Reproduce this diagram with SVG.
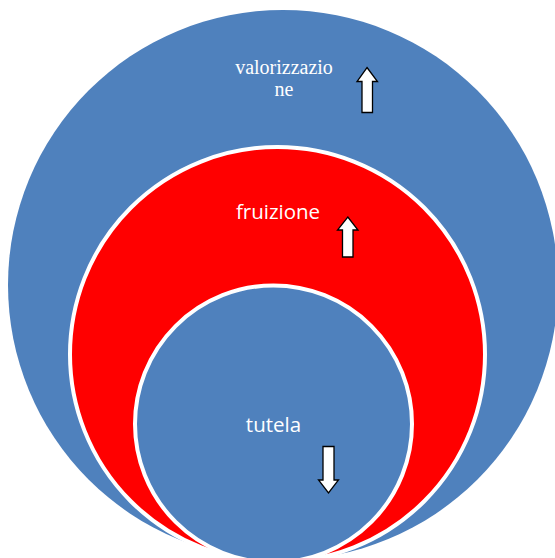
<svg xmlns="http://www.w3.org/2000/svg" width="555" height="558" viewBox="0 0 555 558">
<style>
.blue{fill:#4F81BD}
.ring{stroke:#FFFFFF;stroke-width:4}
.arrow{fill:#FFFFFF;stroke:#000000;stroke-width:1.3;stroke-linejoin:miter}
.serif{font-family:"Liberation Serif","Times New Roman",serif;font-size:20px;fill:#FFFFFF;text-anchor:middle}
.sans{font-family:"Open Sans","Noto Sans",sans-serif;font-size:20.5px;fill:#FFFFFF;text-anchor:middle}
</style>
<rect width="555" height="558" fill="#FFFFFF"/>
<g id="valorizzazione">
<circle class="blue" cx="283" cy="285" r="275"/>
<text class="serif" x="284" y="74">valorizzazio</text>
<text class="serif" x="284" y="96">ne</text>
<polygon class="arrow" points="367,67.5 377.5,81.5 372.5,81.5 372.5,112.5 362,112.5 362,81.5 357,81.5"/>
</g>
<g id="fruizione">
<circle class="ring" cx="277.5" cy="354.5" r="207.5" fill="#FF0000"/>
<text class="sans" x="278" y="219">fruizione</text>
<polygon class="arrow" points="347.8,217 358,230 353,230 353,257 342.5,257 342.5,230 337.5,230"/>
</g>
<g id="tutela">
<circle class="blue ring" cx="273.5" cy="424" r="138.5"/>
<text class="sans" x="273.5" y="432">tutela</text>
<polygon class="arrow" points="323,446.5 334,446.5 334,480 338.5,480 328.5,493 318.5,480 323,480"/>
</g>
<g id="connectors"/>
</svg>
